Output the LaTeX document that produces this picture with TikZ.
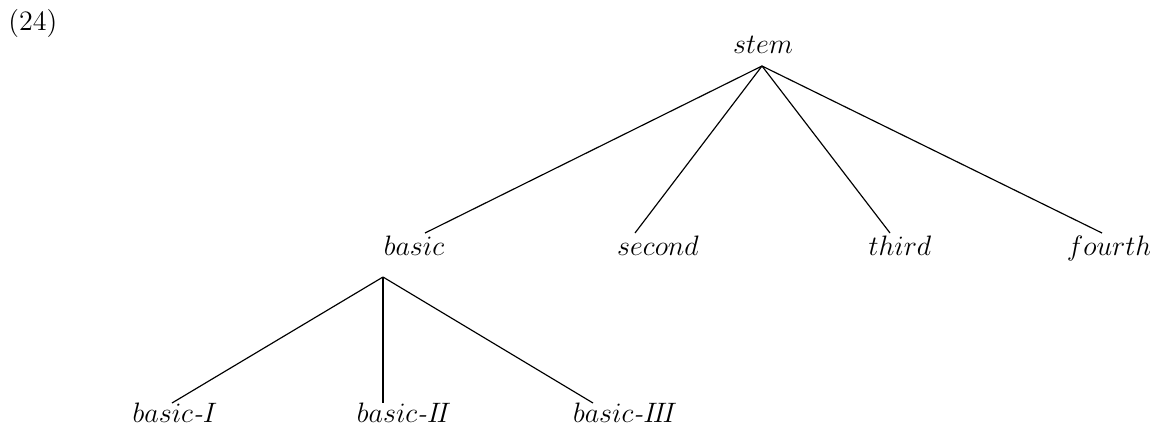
\documentclass[tikz,border=0pt]{standalone}
\begin{document}
\begin{tikzpicture}[x=0.427pt,y=-0.427pt,
  font=\fontsize{12}{14}\selectfont,
  lbl/.style={inner sep=0pt,anchor=base},
  edge/.style={line width=0.5pt}]
\useasboundingbox (0,0) rectangle (1150,429);
% labels
\node[inner sep=0pt,anchor=base west] (num) at (8,30) {(24)};
\node[lbl] (stem) at (763,53) {$stem$};
\node[lbl] (basic) at (414,255) {$basic$};
\node[lbl] (second) at (658,255) {$second$};
\node[lbl] (third) at (900,255) {$third$};
\node[lbl] (fourth) at (1109,255) {$fourth$};
\node[lbl] (b1) at (175,422) {$basic\textit{-}I$};
\node[lbl] (b2) at (404,422) {$basic\textit{-}I\!I$};
\node[lbl] (b3) at (625,422) {$basic\textit{-}I\!I\!I$};
% attachment points
\coordinate (stemB) at (762,66);
\coordinate (basicT) at (425,233);
\coordinate (secondT) at (635,233);
\coordinate (thirdT) at (890,233);
\coordinate (fourthT) at (1102,233);
\coordinate (basicB) at (383,277);
\coordinate (b1T) at (172,403);
\coordinate (b2T) at (383,403);
\coordinate (b3T) at (593,403);
% edges
\draw[edge] (stemB) -- (basicT);
\draw[edge] (stemB) -- (secondT);
\draw[edge] (stemB) -- (thirdT);
\draw[edge] (stemB) -- (fourthT);
\draw[edge] (basicB) -- (b1T);
\draw[edge,line width=0.75pt] (basicB) -- (b2T);
\draw[edge] (basicB) -- (b3T);
\end{tikzpicture}
\end{document}
